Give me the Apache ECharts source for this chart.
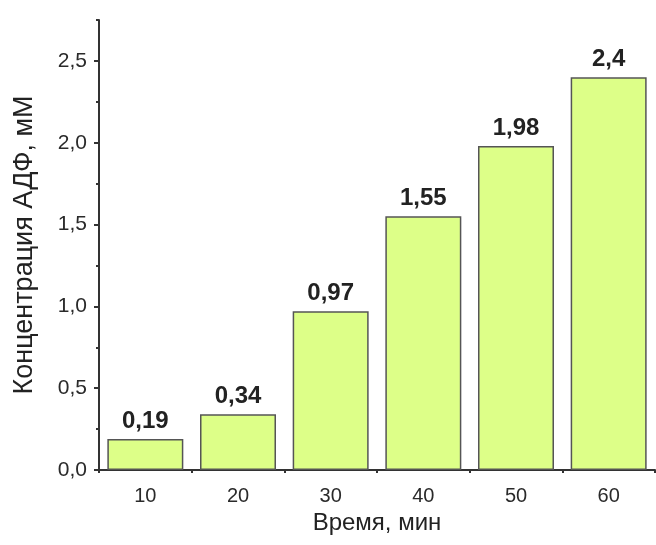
<!DOCTYPE html>
<html><head><meta charset="utf-8">
<script src="https://cdn.jsdelivr.net/npm/echarts@6/dist/echarts.min.js"></script>
<style>html,body{margin:0;padding:0;background:#fff}#c{width:656px;height:545px}</style>
</head><body><div id="c"></div>
<script>
var categories = ['10','20','30','40','50','60'];
var values = [0.19, 0.34, 0.97, 1.55, 1.98, 2.4];
var valueLabels = ['0,19','0,34','0,97','1,55','1,98','2,4'];
var yTicks = [0, 0.5, 1.0, 1.5, 2.0, 2.5];
var yTitle = 'Концентрация АДФ, мМ';
var xTitle = 'Время, мин';

var font = 'Liberation Sans, Arial, sans-serif';
var chart = echarts.init(document.getElementById('c'));
chart.setOption({
  animation: false,
  grid: {left: 99, right: 1, top: 20, bottom: 75},
  xAxis: [{
    type: 'category', data: categories, position: 'bottom',
    name: xTitle, nameLocation: 'middle', nameGap: 41,
    nameTextStyle: {fontFamily: font, fontSize: 24, color: '#222'},
    axisLine: {lineStyle: {color: '#333', width: 2}},
    axisTick: {alignWithLabel: true, length: 6, lineStyle: {color: '#333', width: 2}},
    axisLabel: {fontFamily: font, fontSize: 20, color: '#2a2a2a', margin: 16},
    splitLine: {show: false}
  }, {
    type: 'category', data: categories, position: 'bottom',
    axisLine: {show: false},
    axisTick: {show: true, alignWithLabel: false, length: 3, lineStyle: {color: '#333', width: 2}},
    axisLabel: {show: false}, splitLine: {show: false}
  }],
  yAxis: [{
    type: 'value', min: 0, max: 2.75,
    name: yTitle, nameLocation: 'middle', nameGap: 61,
    nameTextStyle: {fontFamily: font, fontSize: 27, color: '#222'},
    axisLine: {show: true, lineStyle: {color: '#333', width: 2}},
    axisTick: {show: true, length: 5, customValues: yTicks, lineStyle: {color: '#333', width: 2}},
    axisLabel: {fontFamily: font, fontSize: 21, color: '#2a2a2a', margin: 12, customValues: yTicks,
      formatter: function (v) { return v.toFixed(1).replace('.', ','); }},
    splitLine: {show: false}
  }, {
    type: 'value', min: 0, max: 2.75, interval: 0.25, position: 'left',
    axisLine: {show: false},
    axisTick: {show: true, length: 3, lineStyle: {color: '#333', width: 2}},
    axisLabel: {show: false}, splitLine: {show: false}
  }],
  series: [{
    type: 'bar', data: values, xAxisIndex: 0, yAxisIndex: 0,
    barCategoryGap: '18%',
    itemStyle: {color: '#ddff88', borderColor: '#555', borderWidth: 1.5},
    label: {show: true, position: 'top', distance: 6,
      fontFamily: font, fontSize: 24, fontWeight: 'bold', color: '#222',
      formatter: function (p) { return valueLabels[p.dataIndex]; }}
  }]
});
</script></body></html>
